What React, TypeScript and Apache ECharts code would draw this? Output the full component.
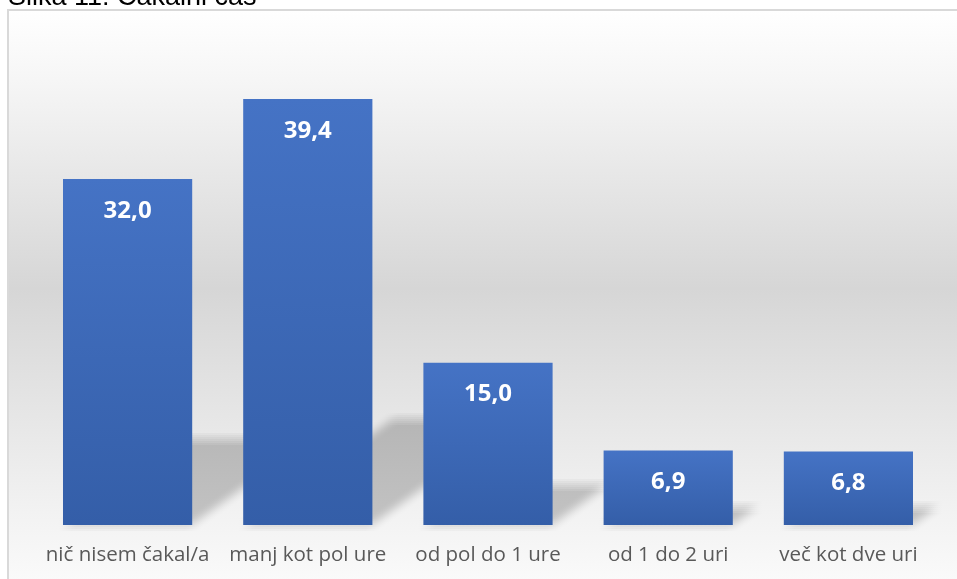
import React, { useEffect, useRef } from "react";
import * as echarts from "echarts";

// Čakalni čas – deleži odgovorov (%)
const categories = [
  "nič nisem čakal/a",
  "manj kot pol ure",
  "od pol do 1 ure",
  "od 1 do 2 uri",
  "več kot dve uri",
];
const shares = [32.0, 39.4, 15.0, 6.9, 6.8];
const titleText = "Slika 11: Čakalni čas";

const BAR_RATIO = 0.717;

// soft shadow: many faint copies of the same polygon, jittered on a small grid
const BLUR_STEPS = [-6, -4, -2, 0, 2, 4, 6];
const SHADOW_ALPHA = 0.17;
const LAYER_ALPHA =
  1 - Math.pow(1 - SHADOW_ALPHA, 1 / (BLUR_STEPS.length * BLUR_STEPS.length));

export default function App() {
  const ref = useRef<HTMLDivElement>(null);

  useEffect(() => {
    if (!ref.current) return;
    const chart = echarts.init(ref.current, null, { renderer: "svg" });

    const fmt = (v: number) => v.toFixed(1).replace(".", ",");

    chart.setOption({
      animation: false,
      graphic: [
        {
          type: "rect",
          z: -10,
          silent: true,
          shape: { x: 8, y: 10, width: 960, height: 580 },
          style: {
            fill: new echarts.graphic.LinearGradient(0, 0, 0, 1, [
              { offset: 0, color: "#ffffff" },
              { offset: 0.12, color: "#f6f6f6" },
              { offset: 0.48, color: "#d6d6d6" },
              { offset: 0.85, color: "#f1f1f1" },
              { offset: 1, color: "#fbfbfb" },
            ]),
            stroke: "#d9d9d9",
            lineWidth: 2,
          },
        },
        {
          type: "text",
          z: 10,
          x: 8,
          y: -4.5,
          style: {
            text: titleText,
            fontFamily: "Liberation Sans, Arial, sans-serif",
            fontSize: 27,
            fill: "#000000",
            verticalAlign: "middle",
            align: "left",
          },
        },
      ],
      grid: { left: 37.5, right: 18.5, top: 92.6, bottom: 54, containLabel: false },
      xAxis: {
        type: "category",
        data: categories,
        axisLine: { show: false },
        axisTick: { show: false },
        axisLabel: {
          color: "#595959",
          fontFamily: "Open Sans, sans-serif",
          fontSize: 20.5,
          margin: 17,
          interval: 0,
        },
      },
      yAxis: {
        type: "value",
        min: 0,
        max: 40,
        show: false,
        splitLine: { show: false },
      },
      series: [
        {
          // perspective shadows cast behind the bars
          type: "custom",
          z: 1,
          silent: true,
          data: shares.map((v, i) => [i, v]),
          renderItem: (params: any, api: any) => {
            const base = api.coord([api.value(0), 0]);
            const top = api.coord([api.value(0), api.value(1)]);
            const bw = api.size([1, 0])[0] * BAR_RATIO;
            const h = base[1] - top[1];
            const dy = h * 0.25;
            const dx = dy * 1.4;
            const x0 = base[0] - bw / 2;
            const x1 = base[0] + bw / 2;
            const yb = base[1];
            const children: any[] = [];
            for (const ox of BLUR_STEPS) {
              for (const oy of BLUR_STEPS) {
                children.push({
                  type: "polygon",
                  shape: {
                    points: [
                      [x0 + ox, yb + oy],
                      [x1 + ox, yb + oy],
                      [x1 + dx + ox, yb - dy + oy],
                      [x0 + dx + ox, yb - dy + oy],
                    ],
                  },
                  style: { fill: "rgba(0,0,0," + LAYER_ALPHA.toFixed(5) + ")" },
                });
              }
            }
            return { type: "group", children };
          },
        },
        {
          type: "bar",
          z: 5,
          data: shares,
          barWidth: (BAR_RATIO * 100).toFixed(1) + "%",
          itemStyle: {
            color: new echarts.graphic.LinearGradient(0, 0, 0, 1, [
              { offset: 0, color: "#4573c5" },
              { offset: 1, color: "#345ea8" },
            ]),
          },
          label: {
            show: true,
            position: "insideTop",
            distance: 17,
            color: "#ffffff",
            fontFamily: "Open Sans, sans-serif",
            fontWeight: "bold",
            fontSize: 24,
            lineHeight: 24,
            formatter: (p: any) => fmt(p.value),
          },
        },
      ],
    });

    return () => chart.dispose();
  }, []);

  return (
    <div
      ref={ref}
      style={{ position: "fixed", left: 0, top: 0, width: 957, height: 579 }}
    />
  );
}
